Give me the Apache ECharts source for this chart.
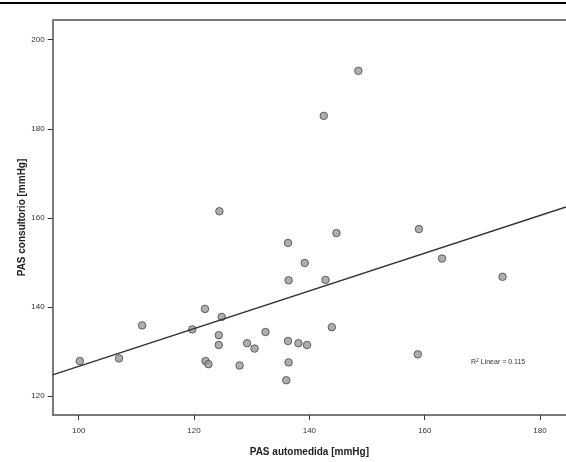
<!DOCTYPE html>
<html><head><meta charset="utf-8">
<script src="https://cdn.jsdelivr.net/npm/echarts@6/dist/echarts.min.js"></script>
<style>html,body{margin:0;padding:0;background:#fff}#c{width:566px;height:462px}</style>
</head><body><div id="c"></div>
<script>
const pasAutomedida = [148.5,142.5,124.4,136.3,144.7,159.0,139.2,163.0,136.4,142.8,173.5,121.9,124.8,111.0,119.7,132.4,143.9,124.3,124.3,129.2,130.5,136.3,138.1,139.6,100.2,107.0,122.0,122.5,127.9,136.4,136.0,158.8];
const pasConsultorio = [193.0,182.9,161.5,154.4,156.6,157.5,149.9,150.9,146.0,146.1,146.8,139.6,137.8,135.9,135.0,134.4,135.5,133.7,131.5,131.9,130.7,132.4,131.9,131.5,127.9,128.5,127.9,127.2,126.9,127.6,123.6,129.4];
const xTicks = [100,120,140,160,180];
const yTicks = [120,140,160,180,200];
const fitIntercept = 84.4, fitSlope = 0.423;
const xMin = 95.5, xMax = 184.5, yMin = 115.8, yMax = 204.4;
const r2Value = '0.115';

const pts = pasAutomedida.map((x,i)=>[x,pasConsultorio[i]]);
const fitLine = [[xMin, fitIntercept+fitSlope*xMin],[xMax, fitIntercept+fitSlope*xMax]];
const chart = echarts.init(document.getElementById('c'));
const axisCol = '#7a7a7a';
chart.setOption({
  animation:false,
  grid:{left:52.7, top:20, right:0, bottom:43},
  xAxis:{type:'value', min:xMin, max:xMax,
    name:'PAS automedida [mmHg]', nameLocation:'middle', nameGap:32, nameMoveOverlap:false,
    nameTextStyle:{fontSize:10, fontWeight:'bold', color:'#222', fontFamily:'Liberation Sans'},
    axisLine:{lineStyle:{color:axisCol, width:2}},
    axisTick:{show:true, length:5, inside:false, customValues:xTicks, lineStyle:{color:'#333'}},
    axisLabel:{customValues:xTicks, fontSize:8, color:'#333', margin:12, fontFamily:'Liberation Sans'},
    splitLine:{show:false}},
  yAxis:{type:'value', min:yMin, max:yMax,
    name:'PAS consultorio [mmHg]', nameLocation:'middle', nameGap:25, nameRotate:90, nameMoveOverlap:false,
    nameTextStyle:{fontSize:10, fontWeight:'bold', color:'#222', fontFamily:'Liberation Sans'},
    axisLine:{show:true, lineStyle:{color:axisCol, width:2}},
    axisTick:{show:true, length:5, inside:false, customValues:yTicks, lineStyle:{color:'#333'}},
    axisLabel:{customValues:yTicks, fontSize:8, color:'#333', margin:8, fontFamily:'Liberation Sans'},
    splitLine:{show:false}},
  graphic:[
    {type:'rect', shape:{x:0,y:2,width:566,height:2}, style:{fill:'#000'}},
    {type:'line', shape:{x1:52.7,y1:20,x2:566,y2:20}, style:{stroke:axisCol, lineWidth:2}},
    {type:'text', left:471, top:358, style:{text:'{a|R}{s|2}{a| Linear = ' + r2Value + '}',
      rich:{a:{fontSize:7, fill:'#333', fontFamily:'Liberation Sans'}, s:{fontSize:5, fill:'#333', verticalAlign:'top', padding:[0,0,3,0]}}}}
  ],
  series:[
    {type:'line', data:fitLine, symbol:'none', lineStyle:{color:'#333', width:1.5}, silent:true},
    {type:'scatter', data:pts, symbol:'circle', symbolSize:7.5,
      itemStyle:{color:'#9a9a9a', borderColor:'#444', borderWidth:1}}
  ]
});
</script></body></html>
